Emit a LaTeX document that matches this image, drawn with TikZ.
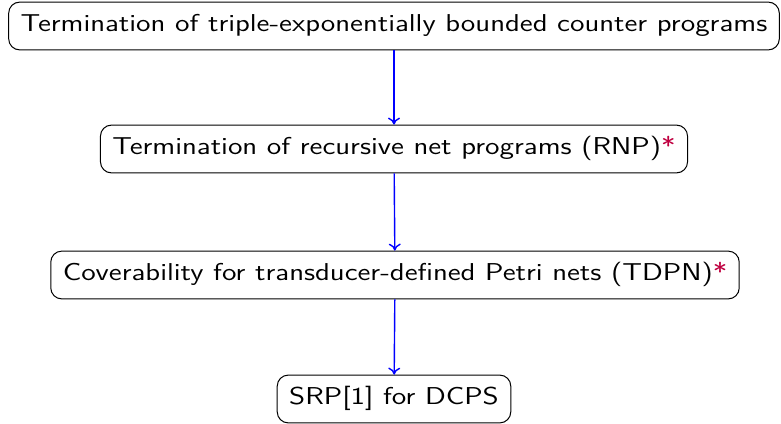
\documentclass[tikz,border=0pt]{standalone}
\usetikzlibrary{arrows.meta}
\newcommand\widetext[1]{\scalebox{1.21}[1]{#1}}
\begin{document}
\begin{tikzpicture}[x=0.5pt,y=-0.5pt,
  box/.style={draw, rounded corners=5.5pt, line width=0.5pt, inner xsep=6pt, inner ysep=6.3pt,
    text height=8.6pt, text depth=2.7pt, font=\sffamily\fontsize{12.2}{14}\selectfont},
  flow/.style={blue, line width=0.7pt, -{To[length=3.5pt,width=6pt]}}]
\useasboundingbox (0,0) rectangle (781,423);
\node[box] (t) at (394,26) {\widetext{Termination of triple-exponentially bounded counter programs}};
\node[box] (r) at (394,149) {\widetext{Termination of recursive net programs (RNP)\textcolor{purple}{*}}};
\node[box] (c) at (395,275) {\widetext{Coverability for transducer-defined Petri nets (TDPN)\textcolor{purple}{*}}};
\node[box] (s) at (394,399) {\widetext{SRP[1] for DCPS}};
\draw[flow] (t) -- (r);
\draw[flow] (r) -- (c);
\draw[flow] (c) -- (s);
\end{tikzpicture}
\end{document}
